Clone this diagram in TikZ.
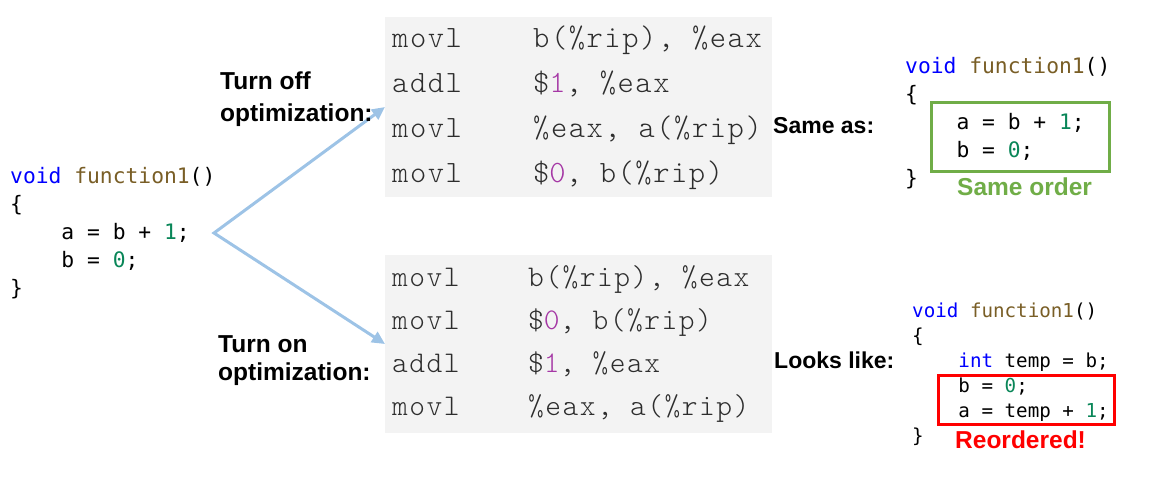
\documentclass[tikz,border=0pt]{standalone}
\usepackage{fontspec}
\setmainfont{Liberation Sans}
\newfontfamily\codefont{DejaVu Sans Mono}
\newfontfamily\asmfont{lmmonolt10-regular.otf}[LetterSpace=5]
\usetikzlibrary{arrows.meta}
\definecolor{kwblue}{RGB}{0,0,255}
\definecolor{fnbrown}{RGB}{121,94,38}
\definecolor{numgreen}{RGB}{9,134,88}
\definecolor{immpurple}{RGB}{165,55,165}
\definecolor{asmgray}{RGB}{243,243,243}
\definecolor{asmtext}{RGB}{45,45,45}
\definecolor{arrowblue}{RGB}{157,195,230}
\definecolor{samegreen}{RGB}{112,173,71}
\definecolor{reorderred}{RGB}{255,0,0}
\newcommand{\kw}[1]{\textcolor{kwblue}{#1}}
\newcommand{\fn}[1]{\textcolor{fnbrown}{#1}}
\newcommand{\num}[1]{\textcolor{numgreen}{#1}}
\newcommand{\imm}[1]{\textcolor{immpurple}{#1}}
\newcommand{\ind}{\hphantom{xxxx}}
\newlength{\opwidth}
\newcommand{\asmop}[1]{\makebox[\opwidth][l]{#1}}
\tikzset{
  code/.style={font=\codefont\fontsize{21.3}{28}\selectfont, align=left, inner sep=0pt, anchor=base west},
  asmbox/.style={fill=asmgray, inner sep=0pt, outer sep=0pt, anchor=north west, minimum width=387pt},
  asmcode/.style={text=asmtext, align=left, inner sep=0pt, anchor=base west},
  remark/.style={font=\bfseries\fontsize{24.5}{32}\selectfont, align=left, inner sep=0pt, anchor=base west},
  flow/.style={arrowblue, line width=3pt, {Triangle[length=13pt,width=12pt]}-{Triangle[length=13pt,width=12pt]}},
  orderbox/.style={line width=3pt, inner sep=0pt, anchor=north west},
}
\begin{document}
\begin{tikzpicture}[x=1pt, y=-1pt]
\useasboundingbox (0,0) rectangle (1166,490);
\node[code] (srccode) at (10,295) {\kw{void} \fn{function1}()\\\{\\\ind a = b + \num{1};\\\ind b = \num{0};\\\}};
\node[asmbox, minimum height=180pt] (offbox) at (385,17) {};
\node[asmcode, font=\asmfont\fontsize{31}{44.7}\selectfont\setlength{\opwidth}{141pt}] (offcode) at (392,182) {%
\asmop{movl}b(\%rip), \%eax\\%
\asmop{addl}\$\imm{1}, \%eax\\%
\asmop{movl}\%eax, a(\%rip)\\%
\asmop{movl}\$\imm{0}, b(\%rip)};
\node[asmbox, minimum height=178pt] (onbox) at (385,255) {};
\node[asmcode, font=\asmfont\fontsize{30}{42.7}\selectfont\setlength{\opwidth}{136pt}] (oncode) at (392,415) {%
\asmop{movl}b(\%rip), \%eax\\%
\asmop{movl}\$\imm{0}, b(\%rip)\\%
\asmop{addl}\$\imm{1}, \%eax\\%
\asmop{movl}\%eax, a(\%rip)};
\coordinate (fork) at (214,233);
\draw[flow] (offbox.west) -- (fork) -- (onbox.west);
\node[remark] (offnote) at (220,121) {Turn off\\optimization:};
\node[remark, font=\bfseries\fontsize{24.5}{28}\selectfont] (onnote) at (218,380) {Turn on\\optimization:};
\node[remark, font=\bfseries\fontsize{23}{28}\selectfont] (samenote) at (773,133) {Same as:};
\node[remark, font=\bfseries\fontsize{23}{28}\selectfont] (looknote) at (774,368) {Looks like:};
\node[code] (samecode) at (905,185) {\kw{void} \fn{function1}()\\\{\\\ind a = b + \num{1};\\\ind b = \num{0};\\\}};
\node[orderbox, draw=samegreen, minimum width=178pt, minimum height=69pt] (samebox) at (930,101) {};
\node[remark, text=samegreen] (sametag) at (957,195) {Same order};
\node[code, font=\codefont\fontsize{19.2}{25}\selectfont] (lookcode) at (912,442) {\kw{void} \fn{function1}()\\\{\\\ind\kw{int} temp = b;\\\ind b = \num{0};\\\ind a = temp + \num{1};\\\}};
\node[orderbox, draw=reorderred, minimum width=176pt, minimum height=49pt] (reorderbox) at (937,374) {};
\node[remark, text=reorderred] (reordertag) at (955,448) {Reordered!};
\end{tikzpicture}
\end{document}
